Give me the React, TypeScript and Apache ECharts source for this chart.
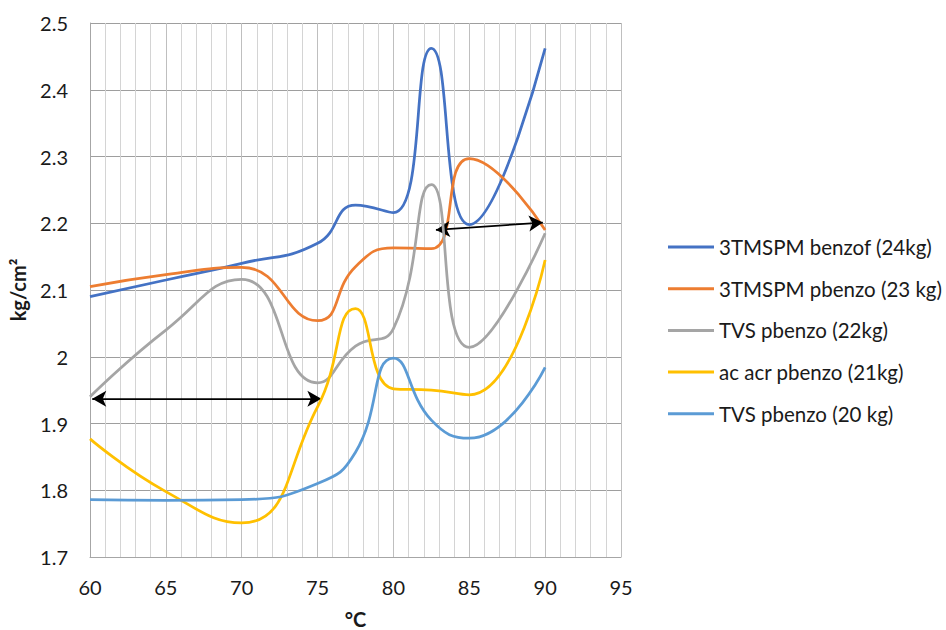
import React, { useEffect, useRef } from "react";
import * as echarts from "echarts";

const temperatures = [60, 65, 70, 75, 77.5, 80, 82.5, 85, 90];

const seriesNames = [
  "3TMSPM benzof (24kg)",
  "3TMSPM pbenzo (23 kg)",
  "TVS pbenzo (22kg)",
  "ac acr pbenzo (21kg)",
  "TVS pbenzo (20 kg)",
];

const benzof24 = [2.09, 2.115, 2.14, 2.17, 2.227, 2.216, 2.462, 2.198, 2.462];
const pbenzo23 = [2.105, 2.123, 2.134, 2.054, 2.135, 2.163, 2.162, 2.297, 2.19];
const tvs22 = [1.94, 2.04, 2.116, 1.961, 2.016, 2.042, 2.258, 2.014, 2.185];
const acacr21 = [1.877, 1.798, 1.751, 1.925, 2.072, 1.952, 1.95, 1.943, 2.145];
const tvs20 = [1.786, 1.785, 1.786, 1.81, 1.857, 1.998, 1.905, 1.878, 1.984];

const seriesValues = [benzof24, pbenzo23, tvs22, acacr21, tvs20];
const seriesColors = ["#4472C4", "#ED7D31", "#A5A5A5", "#FFC000", "#5B9BD5"];

// Double-headed arrow annotations: [[x1, y1], [x2, y2]]
const arrows = [
  [[60.15, 1.937], [75.25, 1.937]],
  [[82.8, 2.19], [89.85, 2.201]],
];

const yTicks = { min: 1.7, max: 2.5, interval: 0.1 };
const xTicks = { min: 60, max: 95, interval: 5 };

const FONT = "Lato, 'Open Sans', sans-serif";

export default function App() {
  const ref = useRef<HTMLDivElement>(null);

  useEffect(() => {
    if (!ref.current) return;
    const chart = echarts.init(ref.current, null, { renderer: "svg" });

    const lineSeries = seriesNames.map((name, i) => ({
      name,
      type: "line",
      data: temperatures.map((t, j) => [t, seriesValues[i][j]]),
      smooth: 0.5,
      showSymbol: false,
      symbol: "none",
      lineStyle: { color: seriesColors[i], width: 2.75 },
      itemStyle: { color: seriesColors[i] },
      z: 3 + i,
    }));

    const arrowSeries = {
      name: "arrows",
      type: "line",
      data: [],
      silent: true,
      z: 10,
      markLine: {
        silent: true,
        symbol: ["arrow", "arrow"],
        symbolSize: [12, 14],
        label: { show: false },
        lineStyle: { color: "#000", width: 1.75, type: "solid" },
        emphasis: { disabled: true },
        data: arrows.map((a) => [{ coord: a[0] }, { coord: a[1] }]),
      },
    };

    chart.setOption({
      animation: false,
      textStyle: { fontFamily: FONT },
      grid: { left: 90, right: 325, top: 23, bottom: 73, containLabel: false, outerBoundsMode: "none" },
      legend: {
        orient: "vertical",
        left: 668,
        top: 236,
        padding: 0,
        itemWidth: 46,
        itemHeight: 3,
        itemGap: 19.7,
        itemTextGap: 5,
        icon: "rect",
        data: seriesNames,
        textStyle: { fontFamily: FONT, fontSize: 20.5, color: "#1a1a1a", lineHeight: 22, padding: [0, 0, 0, 0] },
      },
      xAxis: {
        type: "value",
        min: xTicks.min,
        max: xTicks.max,
        interval: xTicks.interval,
        name: "°C",
        nameLocation: "middle",
        nameGap: 52,
        nameTextStyle: { fontFamily: FONT, fontSize: 20, fontWeight: "bold", color: "#1a1a1a" },
        axisLine: { show: true, lineStyle: { color: "#a6a6a6", width: 1 } },
        axisTick: { show: false },
        axisLabel: { fontFamily: FONT, fontSize: 20, color: "#1a1a1a", margin: 20 },
        splitLine: { show: true, lineStyle: { color: "#bfbfbf", width: 1 } },
        minorTick: { show: false, splitNumber: 5 },
        minorSplitLine: { show: true, lineStyle: { color: "#d4d4d4", width: 1 } },
      },
      yAxis: {
        type: "value",
        min: yTicks.min,
        max: yTicks.max,
        interval: yTicks.interval,
        name: "kg/cm²",
        nameLocation: "middle",
        nameRotate: 90,
        nameGap: 62,
        nameTextStyle: { fontFamily: FONT, fontSize: 20, fontWeight: "bold", color: "#1a1a1a" },
        axisLine: { show: true, lineStyle: { color: "#a6a6a6", width: 1 } },
        axisTick: { show: false },
        axisLabel: {
          fontFamily: FONT,
          fontSize: 20,
          color: "#1a1a1a",
          margin: 22,
          formatter: (v: number) => String(Math.round(v * 10) / 10),
        },
        splitLine: { show: true, lineStyle: { color: "#9e9e9e", width: 1 } },
      },
      series: [...lineSeries, arrowSeries],
    });

    return () => chart.dispose();
  }, []);

  return (
    <div
      ref={ref}
      style={{ position: "absolute", left: 0, top: 0, width: 946, height: 630, background: "#fff" }}
    />
  );
}
